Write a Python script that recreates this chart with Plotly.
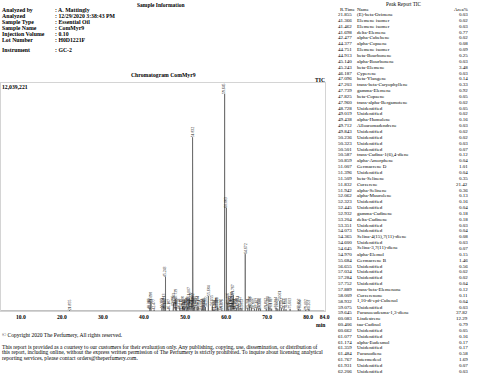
import plotly.graph_objects as go

W, H = 480, 375
SERIF = "Liberation Serif"

# ---------------- data ----------------
info_labels = ["Analyzed by", "Analyzed", "Sample Type", "Sample Name",
               "Injection Volume", "Lot Number", "Instrument"]
info_values = [": A. Mattingly", ": 12/29/2020 3:38:43 PM", ": Essential Oil",
               ": ComMyr9", ": 0.10", ": H0D1221F", ": GC-2"]

rtimes = ["21.855", "41.366", "41.462", "41.698", "42.477", "44.377", "44.751", "44.913",
          "45.140", "45.243", "46.187", "47.096", "47.203", "47.739", "47.825", "47.960",
          "48.728", "49.019", "49.438", "49.712", "49.843", "50.236", "50.323", "50.501",
          "50.587", "50.859", "51.007", "51.396", "51.509", "51.832", "51.942", "52.062",
          "52.323", "52.445", "52.932", "53.204", "53.351", "54.073", "54.365", "54.600",
          "54.645", "54.970", "55.684", "56.655", "57.034", "57.284", "57.752", "57.889",
          "58.009", "58.932", "59.075", "59.645", "60.083", "60.406", "60.662", "61.077",
          "61.174", "61.359", "61.484", "61.767", "61.931", "62.206"]
names = ["(E)-beta-Ocimene", "Elemene isomer", "Elemene isomer", "delta-Elemene",
         "alpha-Cubebene", "alpha-Copaene", "Elemene isomer", "beta-Bourbonene",
         "alpha-Bourbonene", "beta-Elemene", "Cyperene", "beta-Ylangene",
         "trans-beta-Caryophyllene", "gamma-Elemene", "beta-Copaene",
         "trans-alpha-Bergamotene", "Unidentified", "Unidentified", "alpha-Humulene",
         "Alloaromadendrene", "Unidentified", "Unidentified", "Unidentified",
         "Unidentified", "trans-Cadina-1(6),4-diene", "alpha-Amorphene", "Germacrene D",
         "Unidentified", "beta-Selinene", "Curzerene", "alpha-Selinene", "alpha-Muurolene",
         "Unidentified", "Unidentified", "gamma-Cadinene", "delta-Cadinene", "Unidentified",
         "Unidentified", "Selina-4(15),7(11)-diene", "Unidentified", "Selina-3,7(11)-diene",
         "alpha-Elemol", "Germacrene B", "Unidentified", "Unidentified", "Unidentified",
         "Unidentified", "trans-beta-Elemenone", "Curzerenone", "1,10-di-epi-Cubenol",
         "Unidentified", "Furanoeudesma-1,3-diene", "Lindestrene", "tau-Cadinol",
         "Unidentified", "Unidentified", "alpha-Eudesmol", "Unidentified", "Furanodiene",
         "Intermedeol", "Unidentified", "Unidentified"]
areas = ["0.03", "0.02", "0.03", "0.77", "0.02", "0.08", "0.09", "0.25", "0.03", "3.48",
         "0.03", "0.14", "0.33", "0.92", "0.05", "0.02", "0.05", "0.02", "0.16", "0.03",
         "0.02", "0.02", "0.03", "0.07", "0.12", "0.04", "1.01", "0.04", "0.35", "21.42",
         "0.36", "0.13", "0.16", "0.04", "0.18", "0.18", "0.03", "0.04", "0.08", "0.03",
         "0.07", "0.15", "1.46", "0.56", "0.02", "0.02", "0.04", "0.12", "0.11", "0.04",
         "0.03", "37.82", "12.29", "0.79", "0.05", "0.16", "0.17", "0.17", "0.58", "1.69",
         "0.07", "0.03"]
# peak heights (fraction of the tallest peak)
heights = [0.004, 0.010, 0.012, 0.042, 0.005, 0.012, 0.015, 0.030, 0.006, 0.157,
           0.006, 0.020, 0.035, 0.055, 0.010, 0.005, 0.010, 0.005, 0.020, 0.006,
           0.005, 0.005, 0.006, 0.012, 0.018, 0.008, 0.060, 0.008, 0.035, 0.800,
           0.035, 0.015, 0.020, 0.008, 0.020, 0.020, 0.006, 0.008, 0.012, 0.006,
           0.010, 0.018, 0.069, 0.025, 0.004, 0.004, 0.006, 0.015, 0.014, 0.006,
           0.005, 1.000, 0.475, 0.035, 0.008, 0.020, 0.022, 0.022, 0.040, 0.074,
           0.010, 0.006]
# later peaks (beyond the visible part of the peak report)
extra_rtimes = ["62.548", "62.951", "63.402", "63.853", "64.672", "65.301", "65.748",
                "66.203", "66.905", "67.402", "67.951", "68.404", "69.802", "70.301",
                "70.703", "71.102", "72.204", "72.603", "73.061", "73.502", "74.103",
                "74.604", "75.603", "77.602", "78.004", "79.402", "80.203"]
extra_heights = [0.012, 0.020, 0.015, 0.010, 0.262, 0.012, 0.020, 0.015, 0.010, 0.012,
                 0.008, 0.010, 0.010, 0.020, 0.015, 0.010, 0.015, 0.010, 0.046, 0.012,
                 0.010, 0.008, 0.010, 0.008, 0.006, 0.006, 0.006]

y_max = 12039221
x_ticks = [10, 20, 30, 40, 50, 60, 70, 80, 84]

# ---------------- helpers ----------------
def P(x, y):
    return x / W, 1 - y / H

ann = []

def text(x, y, s, size=5.5, bold=False, xanchor="left", color="black"):
    px, py = P(x, y)
    ann.append(dict(x=px, y=py, xref="paper", yref="paper", text=s, showarrow=False,
                    xanchor=xanchor, yanchor="middle", borderpad=0, borderwidth=0,
                    font=dict(family=SERIF, size=size, color=color,
                              weight="bold" if bold else "normal")))

# ---------------- chromatogram trace ----------------
all_t = [float(t) for t in rtimes] + [float(t) for t in extra_rtimes]
all_h = heights + extra_heights
all_lbl = rtimes + extra_rtimes
peaks = sorted(zip(all_t, all_h, all_lbl))
w = 0.02
xs, ys = [5.0], [0.0]
for t, h, _ in peaks:
    xs += [t - w, t, t + w]
    ys += [0.0, h * y_max, 0.0]
xs.append(84.0)
ys.append(0.0)

fig = go.Figure()
fig.add_trace(go.Scatter(x=xs, y=ys, mode="lines",
                         line=dict(color="#666666", width=0.8),
                         hoverinfo="skip", showlegend=False))

# peak retention-time labels
for t, h, lbl in peaks:
    ann.append(dict(x=t, y=h * y_max, xref="x", yref="y", text=lbl, showarrow=False,
                    textangle=-90, xanchor="center", yanchor="bottom",
                    borderpad=0, borderwidth=0,
                    font=dict(family=SERIF, size=3.8, color="#111")))

# ---------------- header text ----------------
text(163, 4.5, "Sample Information", size=5.5, bold=True, xanchor="center")
ys_info = [10, 16, 22, 28, 34, 40, 50]
for lab, val, yy in zip(info_labels, info_values, ys_info):
    text(2, yy, lab, size=5.8, bold=True)
    text(56, yy, val, size=5.8, bold=True)

text(165, 74.5, "Chromatogram ComMyr9", size=5.7, bold=True, xanchor="center")
text(328, 80, "TIC", size=5.6, bold=True, xanchor="right")
text(2, 87, f"{y_max:,}", size=5.7, bold=True)
text(329, 325, "min", size=5.6, bold=True, xanchor="right")

# ---------------- footer ----------------
text(2, 335, "© Copyright 2020 The Perfumery, All rights reserved.", size=5.55)
para = ["This report is provided as a courtesy to our customers for their evaluation only. Any publishing, copying, use, dissemination, or distribution of",
        "this report, including online, without the express written permission of The Perfumery is strictly prohibited. To inquire about licensing analytical",
        "reporting services, please contact orders@theperfumery.com."]
for i, line in enumerate(para):
    text(2, 346.5 + i * 5.6, line, size=5.55)

# ---------------- peak report table ----------------
text(408, 4, "Peak Report TIC", size=5.2, xanchor="center")
text(344, 9.7, "R.Time", size=5)
text(360.5, 9.7, "Name", size=5)
text(472.5, 9.7, "Area%", size=5, xanchor="right")
for i, (rt, nm, ar) in enumerate(zip(rtimes, names, areas)):
    yy = 14.5 + i * 5.85
    text(356, yy, rt, size=5, xanchor="right")
    text(360.5, yy, nm, size=5)
    text(472.5, yy, ar, size=5, xanchor="right")

# ---------------- layout ----------------
fig.update_layout(
    width=W, height=H, margin=dict(l=0, r=0, t=0, b=0),
    paper_bgcolor="white", plot_bgcolor="white",
    annotations=ann,
    xaxis=dict(domain=[1 / W, 328 / W], range=[5.16, 84.0],
               tickvals=x_ticks, ticktext=[f"{v:.1f}" for v in x_ticks],
               tickfont=dict(family=SERIF, size=5.6, color="black", weight="bold"),
               ticks="", showgrid=False, zeroline=False,
               showline=True, linecolor="#d4d4d4", linewidth=1, mirror=True),
    yaxis=dict(domain=[1 - 311 / H, 1 - 83 / H], range=[0, y_max * 1.05],
               showticklabels=False, ticks="", showgrid=False, zeroline=False,
               showline=True, linecolor="#d4d4d4", linewidth=1, mirror=True),
)

fig.write_html("out.html", config={"displayModeBar": False},
               post_script="document.body.style.margin='0';document.body.style.overflow='hidden';")
